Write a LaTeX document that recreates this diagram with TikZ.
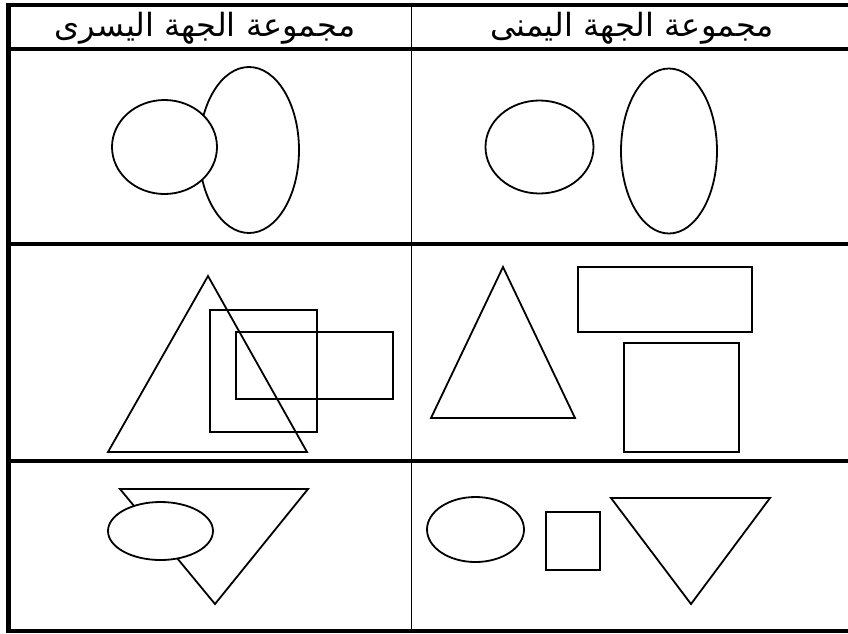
\documentclass[tikz,border=0pt]{standalone}
\usepackage{fontspec}
\TeXXeTstate=1
\newfontfamily\arabicfont[Script=Arabic]{DejaVu Sans}
\begin{document}
\begin{tikzpicture}[x=1pt,y=-1pt,
  frame/.style={line width=4.5pt},
  thin frame/.style={line width=1.5pt},
  shape line/.style={line width=1.8pt},
  head/.style={font=\arabicfont\fontsize{32}{36}\selectfont, inner sep=0pt, anchor=center}]
\useasboundingbox (0,0) rectangle (848,633);
\fill[white] (0,0) rectangle (848,633);
% table
\draw[frame] (8.5,5) -- (848,5);
\draw[frame] (8.5,49) -- (848,49);
\draw[frame] (8.5,244) -- (848,244);
\draw[frame] (8.5,461) -- (848,461);
\draw[frame] (6.25,631) -- (848,631);
\draw[frame] (8.5,2.75) -- (8.5,633);
\draw[thin frame] (411.5,5) -- (411.5,631);
% headers
\node[head] (hl) at (205,28) {\beginR مجموعة الجهة اليسرى\endR};
\node[head] (hr) at (632,28) {\beginR مجموعة الجهة اليمنى\endR};
% row 1 left
\draw[shape line] (249,150) ellipse [x radius=50, y radius=83];
\draw[shape line, fill=white] (164.5,147) ellipse [x radius=52.5, y radius=47];
% row 1 right
\draw[shape line] (539.5,147) ellipse [x radius=54, y radius=46.5];
\draw[shape line] (669,151) ellipse [x radius=48, y radius=82.5];
% row 2 left
\draw[shape line] (208,276) -- (108,452) -- (307,452) -- cycle;
\draw[shape line] (210,310) rectangle (317,432);
\draw[shape line] (236,332) rectangle (393,399);
% row 2 right
\draw[shape line] (503,267) -- (431,418) -- (575,418) -- cycle;
\draw[shape line] (578,267) rectangle (752,332);
\draw[shape line] (624,343) rectangle (739,452);
% row 3 left
\draw[shape line] (120,489) -- (308,489) -- (215,604) -- cycle;
\draw[shape line, fill=white] (160.5,531) ellipse [x radius=52.5, y radius=29];
% row 3 right
\draw[shape line] (475.5,529.5) ellipse [x radius=48.5, y radius=32.5];
\draw[shape line] (546,512) rectangle (600,570);
\draw[shape line] (611,498) -- (770,498) -- (691,604) -- cycle;
\end{tikzpicture}
\end{document}
